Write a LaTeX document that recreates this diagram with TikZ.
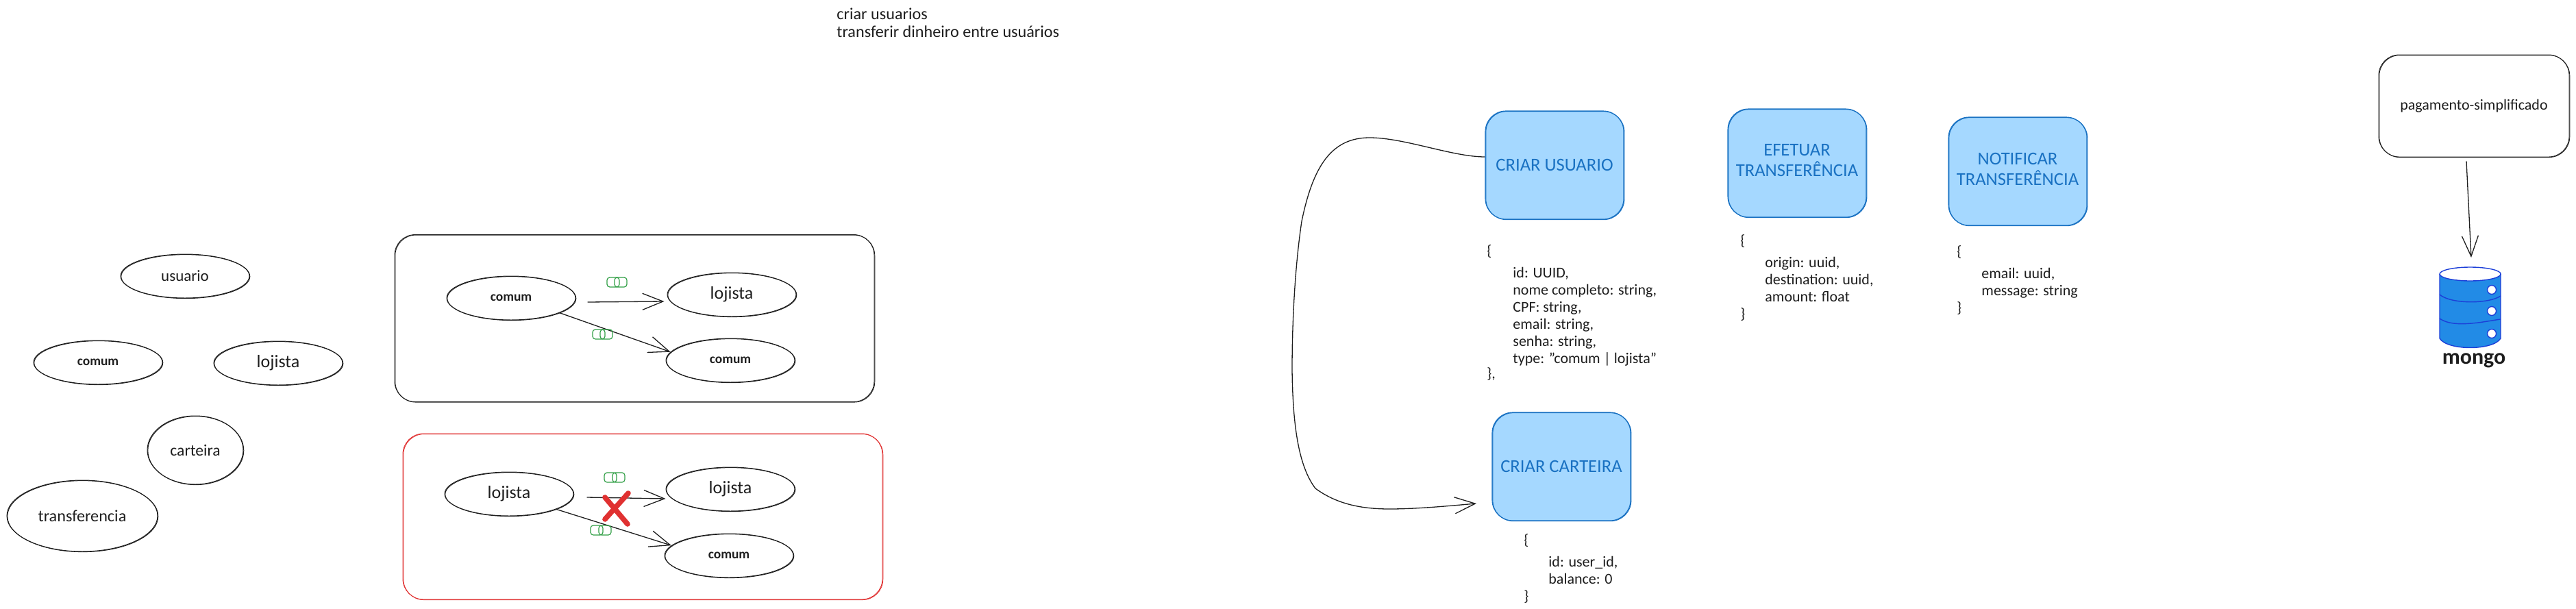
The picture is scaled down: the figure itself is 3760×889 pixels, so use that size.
\documentclass[tikz,border=0pt]{standalone}
\usepackage{fontspec}
\setmainfont{Carlito}
\usetikzlibrary{arrows.meta,shapes.geometric}
\definecolor{ink}{HTML}{1E1E1E}
\definecolor{bluefill}{HTML}{A5D8FF}
\definecolor{bluetext}{HTML}{1971C2}
\definecolor{okgreen}{HTML}{2F9E44}
\definecolor{nored}{HTML}{E03131}
\definecolor{dbfill}{HTML}{228BE6}
\definecolor{dbline}{HTML}{1C3FD8}
\newcommand{\fs}[1]{\fontsize{#1}{#1}\selectfont}
\tikzset{
  rough/.style={postaction={draw,transform canvas={shift={(.4pt,-.3pt)}}}},
  oval/.style={ellipse,draw=ink,line width=.5pt,rough,inner sep=0pt,text=ink},
  ovalstd/.style={oval,minimum width=94pt,minimum height=32pt},
  small/.style={font=\fs{9.7}\bfseries},
  tall/.style={font=\fs{13}},
  roundbox/.style={rectangle,rounded corners=15pt,draw=bluetext,fill=bluefill,line width=.55pt,rough,
    minimum width=101pt,minimum height=79pt,inner sep=0pt,text=bluetext,align=center,font=\fs{13.3}},
  frame/.style={rectangle,rounded corners=15pt,line width=.45pt,rough,inner sep=0pt},
  code/.style={anchor=north west,align=left,inner sep=0pt,text=ink,font=\fontsize{11}{12.5}\selectfont},
  link/.style={draw=ink,line width=.65pt,-{Straight Barb[length=15pt,width=12pt,line width=.65pt]}},
  tick/.style={rectangle,rounded corners=2pt,draw=okgreen,line width=.6pt,minimum width=9pt,minimum height=7pt,inner sep=0pt},
  cross/.style={draw=nored,line width=3.8pt,line cap=round},
  dbstroke/.style={draw=dbline,line width=.7pt}
}
\begin{document}
\begin{tikzpicture}[x=.5pt,y=-.5pt]
\useasboundingbox (0,0) rectangle (3760,889);
% top note
\node[code,font=\fontsize{12.1}{13}\selectfont] (note) at (1221,11) {criar usuarios\\transferir dinheiro entre usuários};
% entities
\node[ovalstd,font=\fs{11.5}] (usuario) at (270,403) {usuario};
\node[ovalstd,small] (comumA) at (143,529) {comum};
\node[ovalstd,tall] (lojistaA) at (406,530) {lojista};
\node[oval,minimum width=70pt,minimum height=50pt,font=\fs{11.8}] (carteira) at (285,657) {carteira};
\node[oval,minimum width=110pt,minimum height=52pt,font=\fs{12.1}] (transf) at (120,753) {transferencia};
% black frame
\node[frame,draw=ink,minimum width=350pt,minimum height=122pt] (frameA) at (926,464.5) {};
\node[ovalstd,small] (c1) at (746,435) {comum};
\node[ovalstd,tall] (l1) at (1068,430) {lojista};
\node[ovalstd,small] (c2) at (1066,526) {comum};
\draw[link] ([xshift=8.5pt,yshift=-3pt]c1.east) -- ([xshift=-2pt,yshift=-5pt]l1.west);
\draw[link] (c1.-17) -- (c2.172);
\node[tick] (g1) at (895,412) {};
\node[tick] (g1b) at (906,412) {};
\node[tick] (g2) at (874,488) {};
\node[tick] (g2b) at (885,488) {};
% red frame
\node[frame,draw=nored,minimum width=350pt,minimum height=121pt] (frameB) at (938,754) {};
\node[ovalstd,tall] (l2) at (743,721) {lojista};
\node[ovalstd,tall] (l3) at (1066,714) {lojista};
\node[ovalstd,small] (c3) at (1064,811) {comum};
\draw[link] ([xshift=9.5pt,yshift=-2.5pt]l2.east) -- ([yshift=-7pt]l3.west);
\draw[link] (l2.-18) -- (c3.170);
\node[tick] (g3) at (891,697) {};
\node[tick] (g3b) at (903,697) {};
\node[tick] (g4) at (871,774) {};
\node[tick] (g4b) at (883,774) {};
\coordinate (xa) at (883,726);
\coordinate (xb) at (916,765);
\coordinate (xc) at (917,720);
\coordinate (xd) at (883,758);
\draw[cross] (xa) -- (xb);
\draw[cross] (xc) -- (xd);
% blue steps
\node[roundbox] (criaru) at (2269,241) {CRIAR USUARIO};
\node[roundbox] (criarc) at (2279,681) {CRIAR CARTEIRA};
\node[roundbox] (efetuar) at (2623,238) {\raisebox{4pt}{\shortstack{EFETUAR\\[1pt]TRANSFERÊNCIA}}};
\node[roundbox] (notif) at (2945,250) {\raisebox{3pt}{\shortstack{NOTIFICAR\\[1pt]TRANSFERÊNCIA}}};
\coordinate (curveend) at (2155,735);
\draw[link] ([yshift=6pt]criaru.west) .. controls (2120,229) and (2050,201) .. (1999,201)
  .. controls (1945,201) and (1917,240) .. (1900,323)
  .. controls (1890,390) and (1886,470) .. (1886,540)
  .. controls (1887,620) and (1895,680) .. (1920,713)
  .. controls (1950,735) and (1985,743) .. (2028,743)
  .. controls (2070,743) and (2120,738) .. (curveend);
% code blocks
\node[code] (cod1) at (2170,357) {\{\\[3.5pt]\hspace*{19pt}id: UUID,\\\hspace*{19pt}nome completo: string,\\\hspace*{19pt}CPF: string,\\\hspace*{19pt}email: string,\\\hspace*{19pt}senha: string,\\\hspace*{19pt}type: "comum | lojista"\\[-1.5pt]\},};
\node[code] (cod2) at (2224,779) {\{\\[3.5pt]\hspace*{18pt}id: user\_id,\\\hspace*{18pt}balance: 0\\\}};
\node[code] (cod3) at (2540,342) {\{\\[3.5pt]\hspace*{18pt}origin: uuid,\\\hspace*{18pt}destination: uuid,\\\hspace*{18pt}amount: float\\\}};
\node[code] (cod4) at (2856,358) {\{\\[3.5pt]\hspace*{18pt}email: uuid,\\\hspace*{18pt}message: string\\\}};
% service and database
\node[frame,draw=ink,minimum width=139pt,minimum height=74.5pt,text=ink,font=\fs{11}] (pag) at (3611,154.5) {pagamento-simplificado};
\coordinate (dbtop) at (3607,376);
\draw[link] ([xshift=-5.5pt,yshift=-3pt]pag.south) -- (dbtop);
\begin{scope}[shift={(2,4)}]
\fill[dbfill] (3559,396) -- (3559,490) .. controls (3570,508) and (3637,508) .. (3648,490) -- (3648,396) -- cycle;
\draw[dbstroke] (3559,396) -- (3559,490) .. controls (3570,508) and (3637,508) .. (3648,490) -- (3648,396);
\draw[dbstroke,fill=white] (3603.5,396) ellipse [x radius=44.5,y radius=10];
\draw[dbstroke] (3559,426) .. controls (3575,440) and (3630,440) .. (3648,428);
\draw[dbstroke] (3559,461) .. controls (3580,476) and (3625,465) .. (3648,462);
\foreach \cy in {419,450,483}{\draw[dbstroke,fill=white] (3635,\cy) circle [radius=6.5];}
\end{scope}
\node[inner sep=0pt,text=ink,font=\fontsize{16}{16}\selectfont\bfseries] (mongo) at (3611,526) {mongo};
\end{tikzpicture}
\end{document}
